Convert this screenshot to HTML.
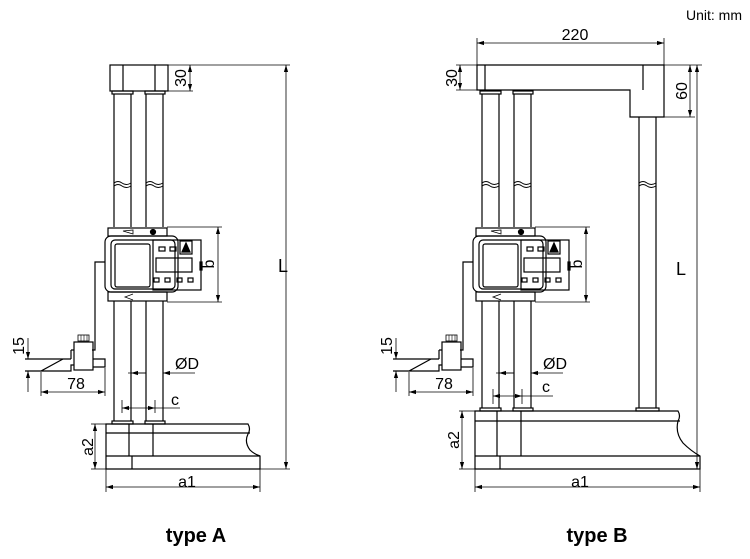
<!DOCTYPE html>
<html><head><meta charset="utf-8"><style>
html,body{margin:0;padding:0;background:#fff;}
svg{display:block;font-family:"Liberation Sans",Arial,sans-serif;}
</style></head><body>
<svg width="750" height="559" viewBox="0 0 750 559" xmlns="http://www.w3.org/2000/svg">
<defs>
<marker id="ar" viewBox="0 0 10 10" refX="10" refY="5" markerWidth="7" markerHeight="7" orient="auto-start-reverse" markerUnits="userSpaceOnUse"><path d="M0,2 L10,5 L0,8 z" fill="#000"/></marker>
<g id="assy" fill="none" stroke="#000" stroke-width="1.2">
  <rect x="112" y="91" width="21" height="3"/>
  <rect x="145" y="91" width="20" height="3"/>
  <line x1="114" y1="94" x2="114" y2="227"/><line x1="131" y1="94" x2="131" y2="227"/>
  <line x1="146" y1="94" x2="146" y2="227"/><line x1="163" y1="94" x2="163" y2="227"/>
  <path d="M114,183 q4,-3 8,0 t9,0 M114,186 q4,-3 8,0 t9,0" stroke-width="0.9"/>
  <path d="M146,183 q4,-3 8,0 t9,0 M146,186 q4,-3 8,0 t9,0" stroke-width="0.9"/>
  <rect x="108" y="228" width="59" height="8"/>
  <path d="M123,231 l10,3 l0,-4 z" stroke-width="0.8"/>
  <circle cx="153" cy="232" r="2.5" fill="#000"/>
  <rect x="105" y="236" width="73" height="56" rx="6"/>
  <rect x="111" y="240" width="64" height="49" rx="4"/>
  <rect x="115" y="244" width="35" height="43" rx="2"/>
  <rect x="153" y="240" width="48" height="50"/>
  <rect x="200" y="262" width="2" height="8"/>
  <rect x="159" y="247" width="6" height="4"/><rect x="170" y="247" width="6" height="4"/>
  <rect x="180" y="241" width="12" height="13"/>
  <path d="M182,252 l4,-9 l4,9 z" fill="#000"/>
  <rect x="156" y="258" width="36" height="14"/>
  <rect x="154" y="278" width="5" height="4"/><rect x="165" y="278" width="5" height="4"/>
  <rect x="177" y="278" width="5" height="4"/><rect x="188" y="278" width="5" height="4"/>
  <rect x="108" y="292" width="59" height="9"/>
  <path d="M133,294 l-8,3 l8,3" stroke-width="0.8"/>
  <path d="M105,262 H95 V350 H92"/>
  <rect x="78" y="335" width="11" height="6" stroke-width="0.8"/>
  <line x1="81" y1="335" x2="81" y2="341" stroke-width="0.6"/><line x1="84" y1="335" x2="84" y2="341" stroke-width="0.6"/><line x1="87" y1="335" x2="87" y2="341" stroke-width="0.6"/>
  <rect x="74" y="342" width="19" height="28"/>
  <path d="M71,350 H74 M71,350 V359"/>
  <path d="M25,359 H71 M93,359 H105 V367 H93"/>
  <path d="M25,371 H41 L63,359 M41,371 H71 V365 H74"/>
  <g stroke-width="0.8">
   <line x1="28" y1="338" x2="28" y2="359" marker-end="url(#ar)"/>
   <line x1="28" y1="392" x2="28" y2="371" marker-end="url(#ar)"/>
   <line x1="41" y1="372" x2="41" y2="396"/>
   <line x1="105" y1="368" x2="105" y2="396"/>
   <line x1="41" y1="392" x2="105" y2="392" marker-start="url(#ar)" marker-end="url(#ar)"/>
   <line x1="128" y1="373" x2="146" y2="373"/>
   <line x1="146" y1="373" x2="131" y2="373" marker-end="url(#ar)"/>
   <line x1="195" y1="373" x2="163" y2="373" marker-end="url(#ar)"/>
   <line x1="167" y1="227" x2="222" y2="227"/>
   <line x1="167" y1="302" x2="222" y2="302"/>
   <line x1="218" y1="227" x2="218" y2="302" marker-start="url(#ar)" marker-end="url(#ar)"/>
  </g>
</g>
<g id="assyText" font-size="16" fill="#000">
  <text transform="translate(24,346) rotate(-90)" text-anchor="middle">15</text>
  <text x="76" y="389" text-anchor="middle">78</text>
  <text x="187" y="369" text-anchor="middle">ØD</text>
  <text transform="translate(214,264) rotate(-90)" text-anchor="middle">b</text>
</g>
</defs>

<text x="742" y="20" font-size="14" text-anchor="end">Unit: mm</text>

<!-- TYPE A -->
<use href="#assy"/>
<use href="#assyText"/>
<g fill="none" stroke="#000" stroke-width="1.2">
  <line x1="114" y1="301" x2="114" y2="421"/><line x1="131" y1="301" x2="131" y2="421"/>
  <line x1="146" y1="301" x2="146" y2="421"/><line x1="163" y1="301" x2="163" y2="421"/>
  <rect x="112" y="421" width="21" height="3"/>
  <rect x="145" y="421" width="20" height="3"/>
  <rect x="110" y="65" width="58" height="26"/>
  <line x1="123" y1="65" x2="123" y2="91"/><line x1="155" y1="65" x2="155" y2="91"/>
  <path d="M106,424 H248 q3,5 0,10 q-4,8 2,16 q4,4 10,6 V469 H106 Z"/>
  <line x1="106" y1="433" x2="250" y2="433"/>
  <line x1="106" y1="456" x2="260" y2="456"/>
  <path d="M129,424 V456 M153,424 V456 M132,456 V469"/>
</g>
<g fill="none" stroke="#000" stroke-width="0.8">
  <line x1="122" y1="400" x2="122" y2="413"/>
  <line x1="155" y1="400" x2="155" y2="413"/>
  <line x1="122" y1="408" x2="155" y2="408" marker-start="url(#ar)" marker-end="url(#ar)"/>
  <line x1="155" y1="408" x2="180" y2="408"/>
  <line x1="168" y1="65" x2="290" y2="65"/>
  <line x1="190" y1="65" x2="190" y2="91" marker-start="url(#ar)" marker-end="url(#ar)"/>
  <line x1="168" y1="91" x2="193" y2="91"/>
  <line x1="286" y1="65" x2="286" y2="469" marker-start="url(#ar)" marker-end="url(#ar)"/>
  <line x1="260" y1="469" x2="290" y2="469"/>
  <line x1="91" y1="424" x2="106" y2="424"/>
  <line x1="91" y1="469" x2="106" y2="469"/>
  <line x1="95" y1="424" x2="95" y2="469" marker-start="url(#ar)" marker-end="url(#ar)"/>
  <line x1="106" y1="469" x2="106" y2="492"/><line x1="260" y1="469" x2="260" y2="492"/>
  <line x1="106" y1="487" x2="260" y2="487" marker-start="url(#ar)" marker-end="url(#ar)"/>
</g>
<g font-size="16" fill="#000">
  <text x="175" y="405" text-anchor="middle">c</text>
  <text transform="translate(186,78) rotate(-90)" text-anchor="middle">30</text>
  <text x="278" y="272" font-size="18">L</text>
  <text transform="translate(93,447) rotate(-90)" text-anchor="middle">a2</text>
  <text x="187" y="487" text-anchor="middle">a1</text>
  <text x="196" y="542" text-anchor="middle" font-size="20" font-weight="bold">type A</text>
</g>

<!-- TYPE B -->
<g transform="translate(368,0)"><use href="#assy"/><use href="#assyText"/></g>
<g fill="none" stroke="#000" stroke-width="1.2">
  <line x1="482" y1="301" x2="482" y2="408"/><line x1="499" y1="301" x2="499" y2="408"/>
  <line x1="514" y1="301" x2="514" y2="408"/><line x1="531" y1="301" x2="531" y2="408"/>
  <rect x="480" y="408" width="21" height="3"/>
  <rect x="513" y="408" width="20" height="3"/>
  <path d="M477,65 H664 V117 H630 V90 H477 Z"/>
  <line x1="485" y1="65" x2="485" y2="90"/>
  <line x1="643" y1="65" x2="643" y2="90"/>
  <line x1="639" y1="117" x2="639" y2="408"/><line x1="656" y1="117" x2="656" y2="408"/>
  <path d="M639,183 q4,-3 8,0 t9,0 M639,186 q4,-3 8,0 t9,0" stroke-width="0.9"/>
  <rect x="636" y="408" width="23" height="3"/>
  <path d="M475,411 H678 q3,5 0,10 q-3,12 5,22 q8,8 17,13 V469 H475 Z"/>
  <line x1="475" y1="421" x2="680" y2="421"/>
  <line x1="475" y1="456" x2="700" y2="456"/>
  <path d="M497,411 V456 M521,411 V456 M500,456 V469"/>
</g>
<g fill="none" stroke="#000" stroke-width="0.8">
  <line x1="493" y1="389" x2="493" y2="404"/>
  <line x1="522" y1="389" x2="522" y2="404"/>
  <line x1="493" y1="396" x2="522" y2="396" marker-start="url(#ar)" marker-end="url(#ar)"/>
  <line x1="522" y1="396" x2="553" y2="396"/>
  <line x1="477" y1="38" x2="477" y2="65"/><line x1="664" y1="38" x2="664" y2="65"/>
  <line x1="477" y1="43" x2="664" y2="43" marker-start="url(#ar)" marker-end="url(#ar)"/>
  <line x1="456" y1="65" x2="477" y2="65"/><line x1="456" y1="90" x2="477" y2="90"/>
  <line x1="460" y1="65" x2="460" y2="90" marker-start="url(#ar)" marker-end="url(#ar)"/>
  <line x1="664" y1="65" x2="702" y2="65"/>
  <line x1="664" y1="117" x2="695" y2="117"/>
  <line x1="690" y1="65" x2="690" y2="117" marker-start="url(#ar)" marker-end="url(#ar)"/>
  <line x1="697" y1="65" x2="697" y2="469" marker-start="url(#ar)" marker-end="url(#ar)"/>
  <line x1="459" y1="411" x2="475" y2="411"/>
  <line x1="459" y1="469" x2="475" y2="469"/>
  <line x1="462" y1="411" x2="462" y2="469" marker-start="url(#ar)" marker-end="url(#ar)"/>
  <line x1="475" y1="469" x2="475" y2="492"/><line x1="700" y1="469" x2="700" y2="492"/>
  <line x1="475" y1="487" x2="700" y2="487" marker-start="url(#ar)" marker-end="url(#ar)"/>
</g>
<g font-size="16" fill="#000">
  <text x="546" y="392" text-anchor="middle">c</text>
  <text x="575" y="40" text-anchor="middle">220</text>
  <text transform="translate(457,78) rotate(-90)" text-anchor="middle">30</text>
  <text transform="translate(687,91) rotate(-90)" text-anchor="middle">60</text>
  <text x="676" y="275" font-size="18">L</text>
  <text transform="translate(459,440) rotate(-90)" text-anchor="middle">a2</text>
  <text x="580" y="487" text-anchor="middle">a1</text>
  <text x="597" y="542" text-anchor="middle" font-size="20" font-weight="bold">type B</text>
</g>
</svg>
</body></html>
